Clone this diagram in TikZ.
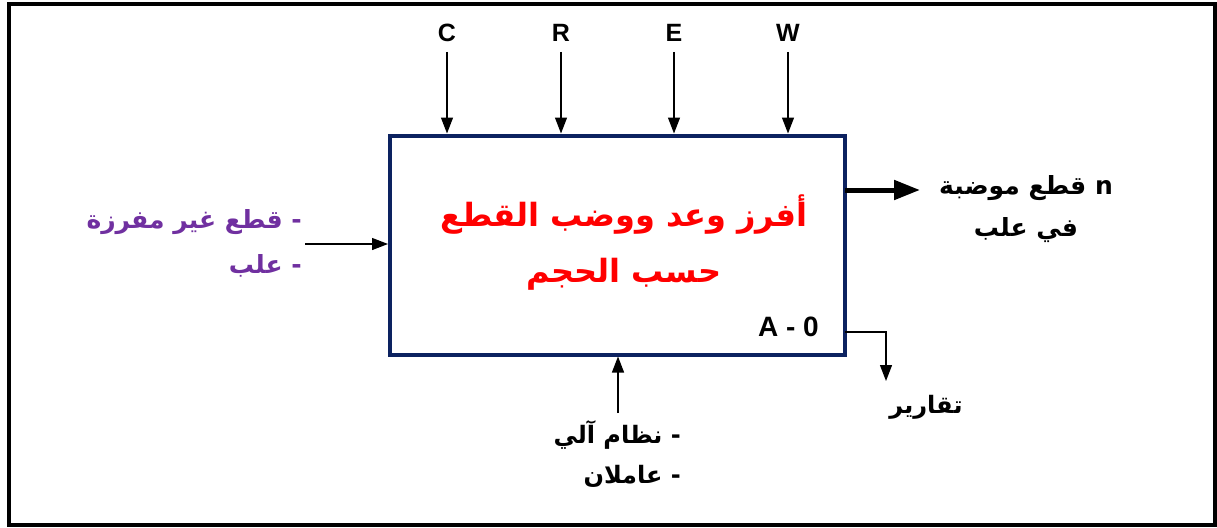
\documentclass[tikz,border=0pt]{standalone}
\usepackage{fontspec}
\setmainfont{Liberation Sans}
\newfontfamily\arabicfont[Script=Arabic]{DejaVu Sans}
\TeXXeTstate=1
\usetikzlibrary{arrows.meta}
\definecolor{navy}{HTML}{0C2260}
\definecolor{purp}{HTML}{7030A0}
\begin{document}
\begin{tikzpicture}[x=1pt,y=-1pt,
  arr/.style={-{Triangle[length=16pt,width=12pt]},line width=1.3pt},
  lab/.style={font=\bfseries\fontsize{25}{25}\selectfont,inner sep=0pt},
  ar/.style={font=\arabicfont\bfseries\fontsize{24}{42}\selectfont,inner sep=0pt,align=right},
]
\useasboundingbox (0,0) rectangle (1217,527);
\draw[line width=4pt] (9,4) rectangle (1215,525);
\node[draw=navy,line width=4pt,minimum width=455pt,minimum height=219pt,inner sep=0pt] (box) at (617.5,245) {};
\node[font=\arabicfont\bfseries\fontsize{32}{56}\selectfont,text=red,align=center] (title) at (624,243) {\beginR أفرز وعد ووضب القطع\endR\\\beginR حسب الحجم\endR};
\node[lab,anchor=east,font=\bfseries\fontsize{28}{28}\selectfont] (id) at (819,327) {A - 0};
% controls
\foreach \n/\t/\x in {c/C/447,r/R/561,e/E/674,w/W/788}{
  \node[lab] (\n) at (\x,33) {\t};
  \coordinate (\n s) at (\x,52);
  \draw[arr] (\n s) -- (\n s |- box.north);
}
% input
\node[ar,text=purp,anchor=east,font=\arabicfont\bfseries\fontsize{25}{45}\selectfont] (inp) at (302,243) {\beginR - قطع غير مفرزة\endR\\\beginR - علب\endR};
\coordinate (ins) at (305,244);
\draw[arr] (ins) -- (ins -| box.west);
% output
\coordinate (outs) at (845,190);
\coordinate (oute) at (920,190);
\draw[-{Triangle[length=26pt,width=19pt]},line width=5pt] (outs) -- (oute);
\node[ar,align=center,font=\arabicfont\bfseries\fontsize{25}{42}\selectfont] (out) at (1026,209) {\beginR n قطع موضبة\endR\\\beginR في علب\endR};
% mechanism
\node[ar,anchor=east,font=\arabicfont\bfseries\fontsize{24}{40}\selectfont] (mech) at (681,454) {\beginR - نظام آلي\endR\\\beginR - عاملان\endR};
\coordinate (ms) at (618,413);
\draw[arr] (ms) -- (ms |- box.south);
% reports
\coordinate (rs) at (845,332);
\coordinate (rc) at (886,332);
\coordinate (re) at (886,381);
\draw[arr] (rs) -- (rc) -- (re);
\node[ar] (rep) at (926,407) {\beginR تقارير\endR};
\end{tikzpicture}
\end{document}
